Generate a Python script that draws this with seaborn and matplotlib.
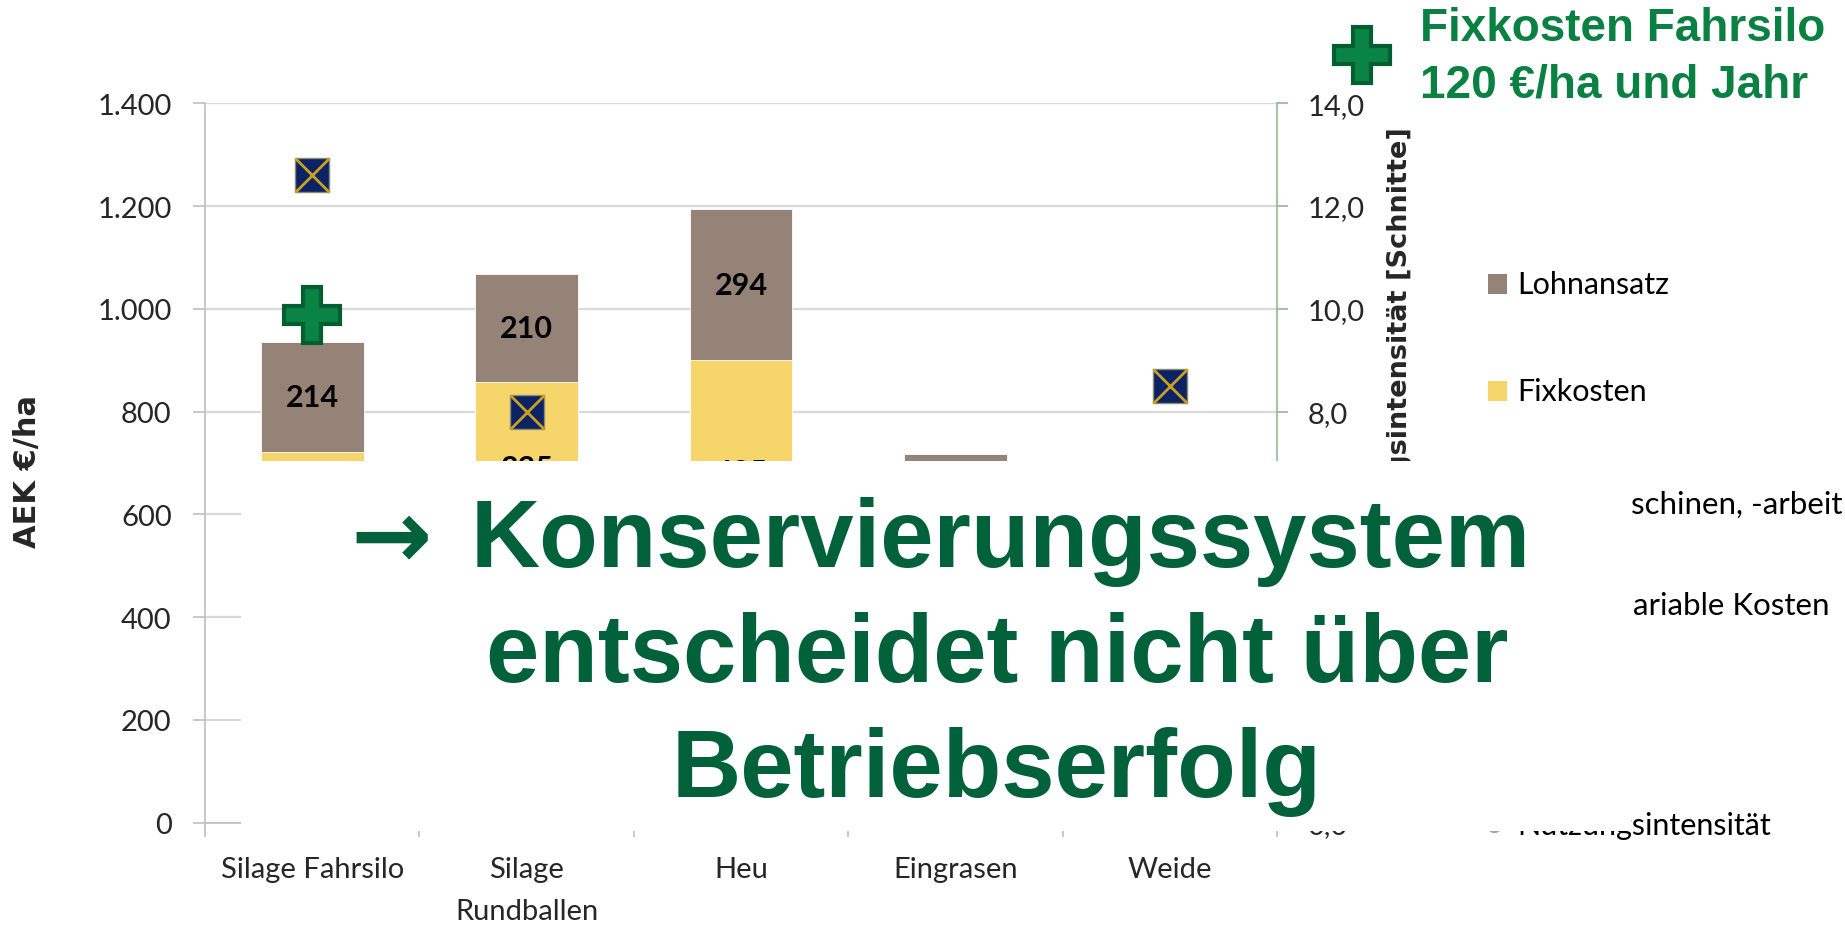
import numpy as np
import pandas as pd
import matplotlib
matplotlib.use('Agg')
import matplotlib.pyplot as plt
import seaborn as sns
from matplotlib.patches import Rectangle
from matplotlib.lines import Line2D
from matplotlib.ticker import FuncFormatter, FixedLocator

# Data (lower segments sit behind the text box, so they are estimates)
categories = ['Silage Fahrsilo', 'Silage\nRundballen', 'Heu', 'Eingrasen', 'Weide']
variable_kosten = [250, 230, 210, 150, 90]
maschinen = [352, 292, 255, 350, 200]
fixkosten = [120, 335, 435, 90, 60]
lohnansatz = [214, 210, 294, 128, 150]
nutzungsintensitaet = [12.6, 8.0, 6.0, 5.0, 8.5]
fixkosten_fahrsilo = [988]

layers = ['variable Kosten', 'Maschinen, -arbeit', 'Fixkosten', 'Lohnansatz']
colors = {'variable Kosten': '#4F6228', 'Maschinen, -arbeit': '#9BBB59',
          'Fixkosten': '#F6D66B', 'Lohnansatz': '#948376'}

df = pd.DataFrame({'Kategorie': categories,
                   'variable Kosten': variable_kosten,
                   'Maschinen, -arbeit': maschinen,
                   'Fixkosten': fixkosten,
                   'Lohnansatz': lohnansatz})
cum = df[layers].cumsum(axis=1)

sns.set_theme(style='white')
W, H = 1845, 937
fig = plt.figure(figsize=(W / 100, H / 100), dpi=100)
ax = fig.add_axes([205 / W, 1 - 823.5 / H, 1072 / W, 719.2 / H])

tick_font = 'Lato'

# stacked bars: draw cumulative totals from the top layer down
for layer in reversed(layers):
    sns.barplot(x=df['Kategorie'], y=cum[layer], order=categories, color=colors[layer],
                saturation=1, width=0.48, errorbar=None, ax=ax,
                edgecolor='white', linewidth=0.6, zorder=2)

# segment labels for the upper two layers
for i in range(len(categories)):
    for layer in ['Fixkosten', 'Lohnansatz']:
        val = df[layer][i]
        mid = cum[layer][i] - val / 2
        ax.text(i, mid, str(val), ha='center', va='center',
                fontsize=22, fontweight='bold', family=tick_font, color='black', zorder=4)

# green cross (Fixkosten Fahrsilo)
ax.plot([0], fixkosten_fahrsilo, linestyle='none', marker='P', markersize=40,
        markerfacecolor='#0A8445', markeredgecolor='#005F30', markeredgewidth=3, zorder=5)

ax.set_ylim(0, 1400)
ax.set_xlim(-0.5, 4.5)
ax.yaxis.set_major_locator(FixedLocator(np.arange(0, 1401, 200)))
ax.yaxis.set_major_formatter(FuncFormatter(lambda v, p: f'{v:,.0f}'.replace(',', '.')))
ax.yaxis.grid(True, color='#D9D9D9', linewidth=1.6, zorder=0)
ax.set_axisbelow(True)
ax.tick_params(axis='y', which='major', length=9, width=1.2, color='#BFBFBF', pad=15,
               labelsize=21, left=True)
ax.set_xticks(range(len(categories)))
ax.set_xticklabels(categories, family=tick_font, fontsize=21, linespacing=1.75)
ax.set_xticks(np.arange(-0.5, 5, 1), minor=True)
ax.tick_params(axis='x', which='major', length=0, pad=24)
ax.tick_params(axis='x', which='minor', length=10, width=1.2, color='#BFBFBF', bottom=True)
for lab in ax.get_yticklabels():
    lab.set_family(tick_font)
ax.set_xlabel('')
ax.set_ylabel('AEK €/ha', family='DejaVu Sans', fontweight='bold', fontsize=22)
ax.yaxis.set_label_coords((27 - 205) / 1072, (823.5 - 471) / 719.2)
ax.yaxis.label.set_va('center')
for s in ['top', 'right']:
    ax.spines[s].set_visible(False)
for s in ['left', 'bottom']:
    ax.spines[s].set_color('#BFBFBF')
    ax.spines[s].set_linewidth(1.2)

# secondary axis: Nutzungsintensitaet
ax2 = ax.twinx()
x_pos = np.arange(len(categories))
ax2.plot(x_pos, nutzungsintensitaet, linestyle='none', marker='s', markersize=25,
         markerfacecolor='#0B2265', markeredgecolor='#8C8C6C', markeredgewidth=1, zorder=5)
ax2.plot(x_pos, nutzungsintensitaet, linestyle='none', marker='x', markersize=24,
         markeredgecolor='#C9A020', markeredgewidth=2, zorder=6)
ax2.set_ylim(0, 14)
ax2.yaxis.set_major_locator(FixedLocator(np.arange(0, 15, 2)))
ax2.yaxis.set_major_formatter(FuncFormatter(lambda v, p: f'{v:.1f}'.replace('.', ',')))
ax2.tick_params(axis='y', length=8, width=1.2, color='#93B793', pad=14, labelsize=21, right=True)
for lab in ax2.get_yticklabels():
    lab.set_family(tick_font)
ax2.grid(False)
for s in ['top', 'left', 'bottom']:
    ax2.spines[s].set_visible(False)
ax2.spines['right'].set_color('#93B793')
ax2.spines['right'].set_linewidth(1.2)
ax2.set_ylabel('Nutzungsintensität [Schnitte]', family='DejaVu Sans', fontweight='bold',
               fontsize=19.5)
ax2.yaxis.set_label_coords((1400 - 205) / 1072, (823.5 - 355) / 719.2)
ax2.yaxis.label.set_va('center')
ax2.yaxis.label.set_ha('center')

# legend entries at the right
for label, yc in [('Lohnansatz', 285), ('Fixkosten', 392)]:
    fig.add_artist(Rectangle((1488 / W, 1 - (yc + 10) / H), 19 / W, 20 / H,
                             transform=fig.transFigure, facecolor=colors[label],
                             edgecolor='none'))
    fig.text(1517 / W, 1 - yc / H, label, ha='left', va='center', fontsize=22,
             family=tick_font, color='black')
fig.text(1631 / W, 1 - 505 / H, 'schinen, -arbeit', ha='left', va='center', fontsize=22.5,
         family=tick_font, color='black')
fig.text(1633 / W, 1 - 606 / H, 'ariable Kosten', ha='left', va='center', fontsize=22.5,
         family=tick_font, color='black')
fig.add_artist(Line2D([1494 / W], [1 - 826 / H], transform=fig.transFigure, marker='o',
                      markersize=10, color='#A6A6A6', linestyle='none'))
fig.text(1517 / W, 1 - 826 / H, 'Nutzungsintensität', ha='left', va='center', fontsize=22,
         family=tick_font, color='black')

# white text box covering the lower part of the chart
fig.add_artist(Rectangle((241 / W, 1 - 832 / H), (1631 - 241) / W, (832 - 462) / H,
                         transform=fig.transFigure, facecolor='white', edgecolor='none',
                         zorder=5))

big = dict(fontsize=69, fontweight='bold', family=['Liberation Sans', 'DejaVu Sans'],
           color='#00613A', zorder=6, va='baseline')
fig.text(391 / W, 1 - 567 / H, '→', ha='center', fontsize=70, fontweight='bold',
         family='DejaVu Sans', color='#00613A', zorder=6, va='baseline')
fig.text(471 / W, 1 - 567 / H, 'Konservierungssystem', ha='left', **big)
fig.text(997 / W, 1 - 682 / H, 'entscheidet nicht über', ha='center', **big)
fig.text(997 / W, 1 - 797 / H, 'Betriebserfolg', ha='center', **big)

# top right note
fig.add_artist(Line2D([1362 / W], [1 - 56 / H], transform=fig.transFigure, marker='P',
                      markersize=40, markerfacecolor='#0A8445', markeredgecolor='#005F30',
                      markeredgewidth=3, linestyle='none'))
note = dict(fontsize=33, fontweight='bold', family=['Liberation Sans', 'DejaVu Sans'],
            color='#0B8043', va='baseline', ha='left')
fig.text(1420 / W, 1 - 41 / H, 'Fixkosten Fahrsilo', **note)
fig.text(1420 / W, 1 - 98 / H, '120 €/ha und Jahr', **note)

fig.savefig('out.png', dpi=100)
